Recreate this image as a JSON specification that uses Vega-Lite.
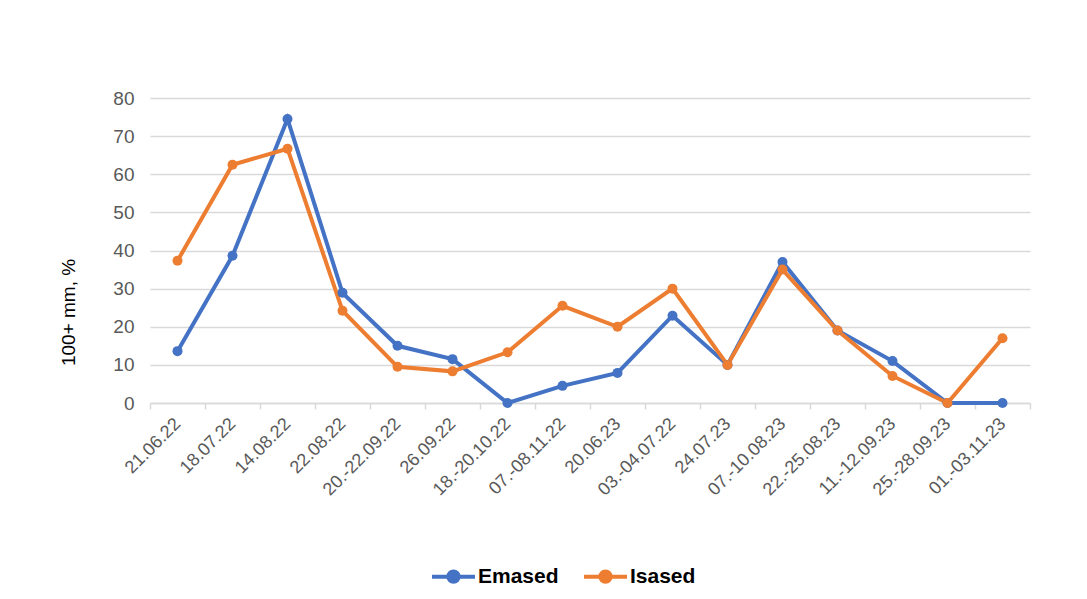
{
  "$schema": "https://vega.github.io/schema/vega-lite/v6.json",
  "width": 880,
  "height": 305,
  "autosize": {"type": "none"},
  "padding": {"left": 150, "top": 98, "right": 57, "bottom": 196},
  "background": "white",
  "config": {
    "view": {"stroke": null},
    "font": "Liberation Sans"
  },
  "data": {
    "values": [
      {"date": "21.06.22", "series": "Emased", "value": 13.6},
      {"date": "18.07.22", "series": "Emased", "value": 38.6},
      {"date": "14.08.22", "series": "Emased", "value": 74.5},
      {"date": "22.08.22", "series": "Emased", "value": 28.9},
      {"date": "20.-22.09.22", "series": "Emased", "value": 15.0},
      {"date": "26.09.22", "series": "Emased", "value": 11.5},
      {"date": "18.-20.10.22", "series": "Emased", "value": 0},
      {"date": "07.-08.11.22", "series": "Emased", "value": 4.5},
      {"date": "20.06.23", "series": "Emased", "value": 7.9},
      {"date": "03.-04.07.22", "series": "Emased", "value": 22.9},
      {"date": "24.07.23", "series": "Emased", "value": 10.0},
      {"date": "07.-10.08.23", "series": "Emased", "value": 37.0},
      {"date": "22.-25.08.23", "series": "Emased", "value": 19.0},
      {"date": "11.-12.09.23", "series": "Emased", "value": 11.0},
      {"date": "25.-28.09.23", "series": "Emased", "value": 0},
      {"date": "01.-03.11.23", "series": "Emased", "value": 0},
      {"date": "21.06.22", "series": "Isased", "value": 37.3},
      {"date": "18.07.22", "series": "Isased", "value": 62.5},
      {"date": "14.08.22", "series": "Isased", "value": 66.7},
      {"date": "22.08.22", "series": "Isased", "value": 24.2},
      {"date": "20.-22.09.22", "series": "Isased", "value": 9.5},
      {"date": "26.09.22", "series": "Isased", "value": 8.3},
      {"date": "18.-20.10.22", "series": "Isased", "value": 13.3},
      {"date": "07.-08.11.22", "series": "Isased", "value": 25.5},
      {"date": "20.06.23", "series": "Isased", "value": 20.0},
      {"date": "03.-04.07.22", "series": "Isased", "value": 30.0},
      {"date": "24.07.23", "series": "Isased", "value": 10.0},
      {"date": "07.-10.08.23", "series": "Isased", "value": 35.0},
      {"date": "22.-25.08.23", "series": "Isased", "value": 19.0},
      {"date": "11.-12.09.23", "series": "Isased", "value": 7.1},
      {"date": "25.-28.09.23", "series": "Isased", "value": 0},
      {"date": "01.-03.11.23", "series": "Isased", "value": 17.0}
    ]
  },
  "mark": {"type": "line", "strokeWidth": 4, "point": {"filled": true, "size": 100}},
  "encoding": {
    "x": {
      "field": "date",
      "type": "nominal",
      "sort": ["21.06.22", "18.07.22", "14.08.22", "22.08.22", "20.-22.09.22", "26.09.22", "18.-20.10.22", "07.-08.11.22", "20.06.23", "03.-04.07.22", "24.07.23", "07.-10.08.23", "22.-25.08.23", "11.-12.09.23", "25.-28.09.23", "01.-03.11.23"],
      "scale": {"type": "band", "paddingInner": 0, "paddingOuter": 0},
      "axis": {
        "title": null,
        "labelAngle": -45,
        "labelAlign": "right",
        "labelBaseline": "middle",
        "labelFontSize": 18,
        "labelColor": "#595959",
        "labelPadding": 12,
        "tickBand": "extent",
        "tickColor": "#d9d9d9",
        "tickSize": 6,
        "tickWidth": 1.5,
        "domainColor": "#d9d9d9",
        "domainWidth": 1.5,
        "grid": false
      }
    },
    "y": {
      "field": "value",
      "type": "quantitative",
      "scale": {"domain": [0, 80], "nice": false},
      "axis": {
        "title": "100+ mm, %",
        "titleFontSize": 19,
        "titleFontWeight": "normal",
        "titleColor": "#000000",
        "titlePadding": 34,
        "titleY": 214,
        "values": [0, 10, 20, 30, 40, 50, 60, 70, 80],
        "labelFontSize": 19,
        "labelColor": "#595959",
        "labelPadding": 16,
        "ticks": false,
        "domain": false,
        "gridColor": "#d9d9d9",
        "gridWidth": 1.5
      }
    },
    "color": {
      "field": "series",
      "type": "nominal",
      "scale": {"domain": ["Emased", "Isased"], "range": ["#4472C4", "#ED7D31"]},
      "legend": {
        "title": null,
        "orient": "none",
        "direction": "horizontal",
        "legendX": 280,
        "legendY": 455,
        "symbolType": "M-1,0L1,0M-0.24,0A0.24,0.24,0,1,1,0.24,0A0.24,0.24,0,1,1,-0.24,0Z",
        "symbolSize": 1849,
        "symbolStrokeWidth": 4,
        "labelFontSize": 21,
        "labelFontWeight": "bold",
        "labelColor": "#000000",
        "labelOffset": 1,
        "columnPadding": 17,
        "encode": {
          "symbols": {"update": {"fill": {"scale": "color", "field": "value"}, "stroke": {"scale": "color", "field": "value"}}}
        }
      }
    }
  }
}
